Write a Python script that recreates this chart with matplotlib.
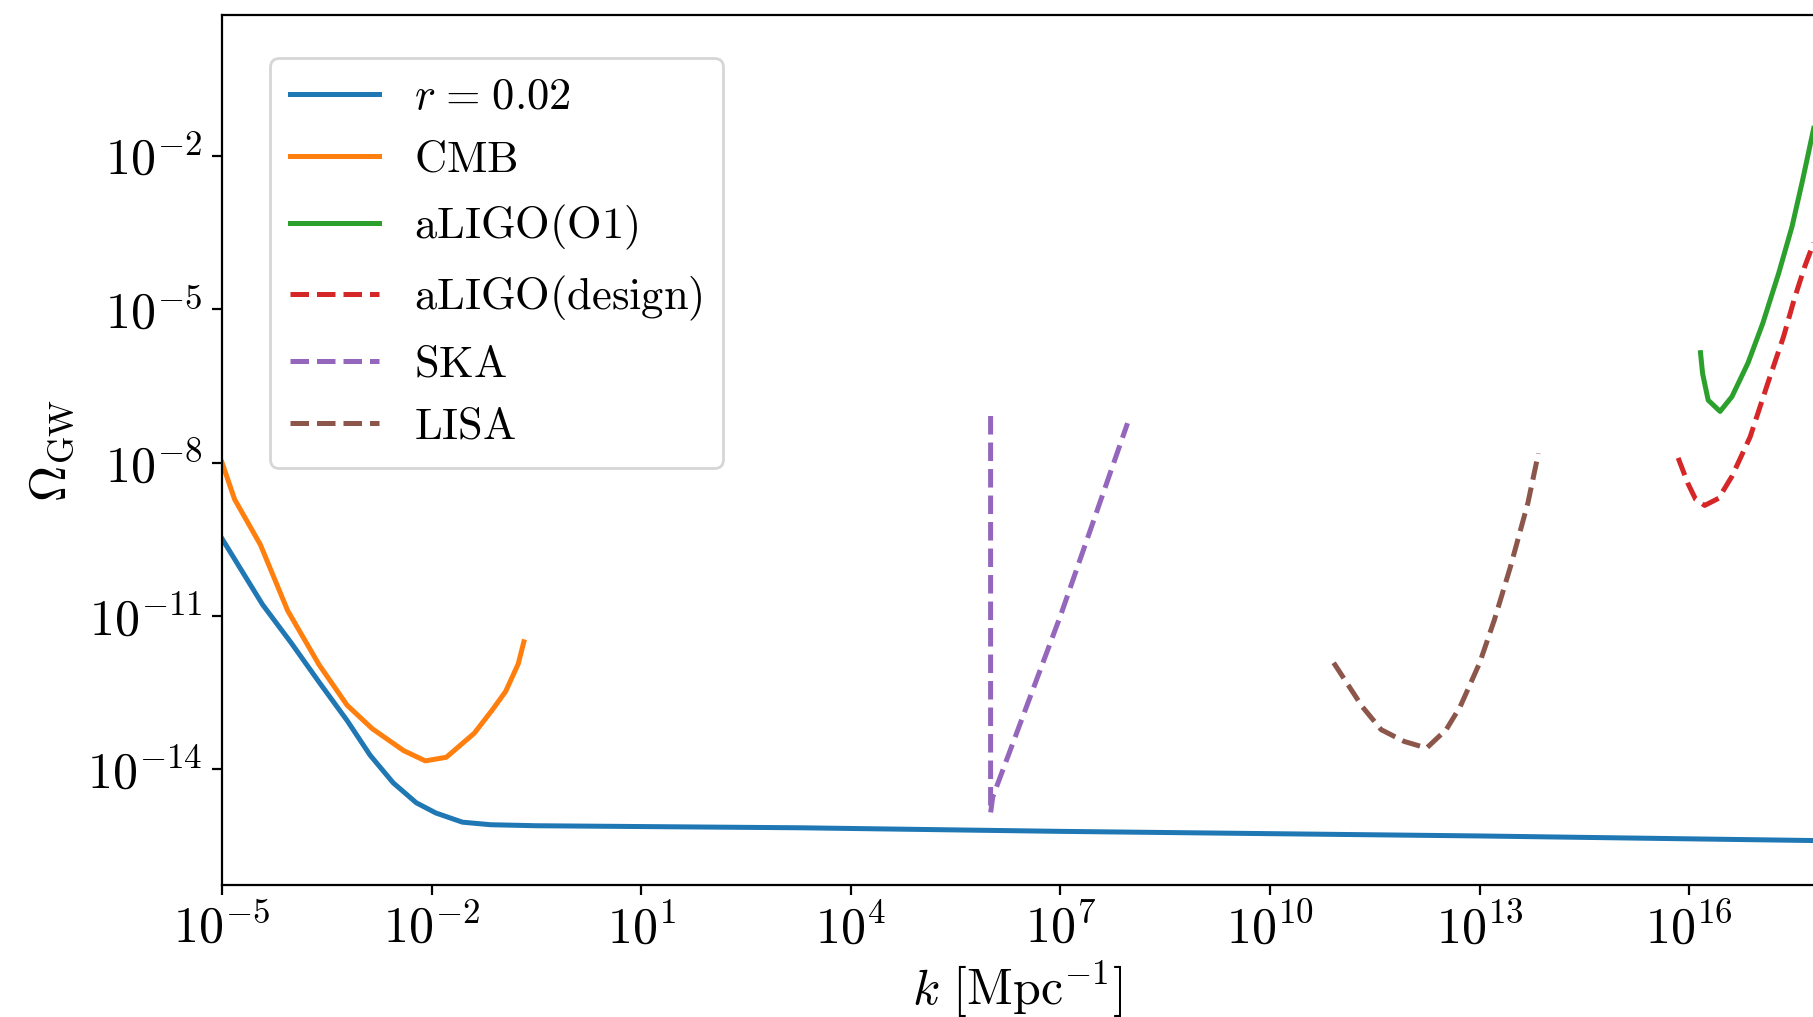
import numpy as np
import matplotlib
matplotlib.use("Agg")
import matplotlib.pyplot as plt
from matplotlib import ticker

plt.rcParams['mathtext.fontset'] = 'cm'
plt.rcParams['font.family'] = 'serif'
plt.rcParams['font.serif'] = ['cmr10', 'DejaVu Serif']
plt.rcParams['axes.formatter.use_mathtext'] = True

# ---- data (log10 k [Mpc^-1], log10 Omega_GW) ----
r002_logk = [-5.0, -4.42, -4.01, -3.61, -3.21, -2.88, -2.55, -2.22, -1.94, -1.56,
             -1.16, -0.50, 3.28, 7.0, 13.0, 17.8]
r002_logO = [-9.49, -10.78, -11.53, -12.30, -13.05, -13.73, -14.27, -14.66, -14.86,
             -15.04, -15.09, -15.11, -15.15, -15.22, -15.31, -15.40]

cmb_logk = [-5.0, -4.82, -4.45, -4.06, -3.61, -3.21, -2.85, -2.40, -2.09, -1.79,
            -1.39, -1.13, -0.94, -0.76, -0.68]
cmb_logO = [-8.00, -8.72, -9.61, -10.90, -11.96, -12.75, -13.21, -13.64, -13.84,
            -13.77, -13.30, -12.84, -12.48, -11.94, -11.51]

o1_logk = [16.16, 16.19, 16.27, 16.44, 16.61, 16.84, 17.05, 17.28, 17.47, 17.62, 17.78]
o1_logO = [-5.85, -6.26, -6.78, -7.00, -6.71, -6.05, -5.28, -4.29, -3.38, -2.48, -1.46]

design_logk = [15.84, 15.98, 16.09, 16.22, 16.42, 16.61, 16.87, 17.12, 17.35, 17.50, 17.65, 17.78]
design_logO = [-7.91, -8.41, -8.72, -8.84, -8.70, -8.27, -7.50, -6.46, -5.53, -4.81, -4.17, -3.70]

ska_logk = [6.0, 6.0, 6.03, 7.0, 7.96]
ska_logO = [-7.09, -14.86, -14.55, -11.0, -7.23]

lisa_logk = [10.91, 11.32, 11.59, 11.92, 12.24, 12.52, 12.72, 13.00, 13.21, 13.44, 13.69, 13.84]
lisa_logO = [-11.92, -12.78, -13.23, -13.46, -13.59, -13.23, -12.78, -11.92, -11.08,
             -10.04, -8.79, -7.82]

labels = [r'$r\hspace{0.1}=\hspace{0.1}0.02$', r'$\mathrm{CMB}$', r'$\mathrm{aLIGO(O1)}$',
          r'$\mathrm{aLIGO(design)}$', r'$\mathrm{SKA}$', r'$\mathrm{LISA}$']

xtick_exps = list(range(-5, 18, 3))
ytick_exps = [-14, -11, -8, -5, -2]

fig = plt.figure(figsize=(1813 / 200, 1017 / 200), dpi=200)
ax = fig.add_axes([222 / 1813, 1 - 885 / 1017, 1 - 222 / 1813, (885 - 15) / 1017])

def p(lk, lo):
    return 10.0 ** np.array(lk), 10.0 ** np.array(lo)

LW = 1.8
ax.plot(*p(r002_logk, r002_logO), color='C0', lw=LW, label=labels[0])
ax.plot(*p(cmb_logk, cmb_logO), color='C1', lw=LW, label=labels[1])
ax.plot(*p(o1_logk, o1_logO), color='C2', lw=LW, label=labels[2])
ax.plot(*p(design_logk, design_logO), color='C3', lw=LW, ls='--', label=labels[3])
ax.plot(*p(ska_logk, ska_logO), color='C4', lw=LW, ls='--', label=labels[4])
ax.plot(*p(lisa_logk, lisa_logO), color='C5', lw=LW, ls='--', label=labels[5])

ax.set_xscale('log')
ax.set_yscale('log')
ax.set_xlim(1e-5, 10 ** 17.77)
ax.set_ylim(10 ** -16.27, 10 ** 0.76)
ax.spines['right'].set_visible(False)

fmt = ticker.FuncFormatter(lambda v, pos: r'$10^{%d}$' % int(round(np.log10(v))))
ax.xaxis.set_major_locator(ticker.FixedLocator([10.0 ** e for e in xtick_exps]))
ax.yaxis.set_major_locator(ticker.FixedLocator([10.0 ** e for e in ytick_exps]))
ax.xaxis.set_major_formatter(fmt)
ax.yaxis.set_major_formatter(fmt)
ax.xaxis.set_minor_locator(ticker.NullLocator())
ax.yaxis.set_minor_locator(ticker.NullLocator())
ax.tick_params(labelsize=18)

ax.set_xlabel(r'$k\ [\mathrm{Mpc}^{-1}]$', fontsize=18, labelpad=2)
ax.set_ylabel(r'$\Omega_{\mathrm{GW}}$', fontsize=18)

ax.legend(loc='upper left', bbox_to_anchor=(270 / 1813, 1 - 58 / 1017),
          bbox_transform=fig.transFigure, borderaxespad=0, fontsize=16,
          borderpad=0.45, labelspacing=0.5)

fig.savefig('out.png', dpi=200)
